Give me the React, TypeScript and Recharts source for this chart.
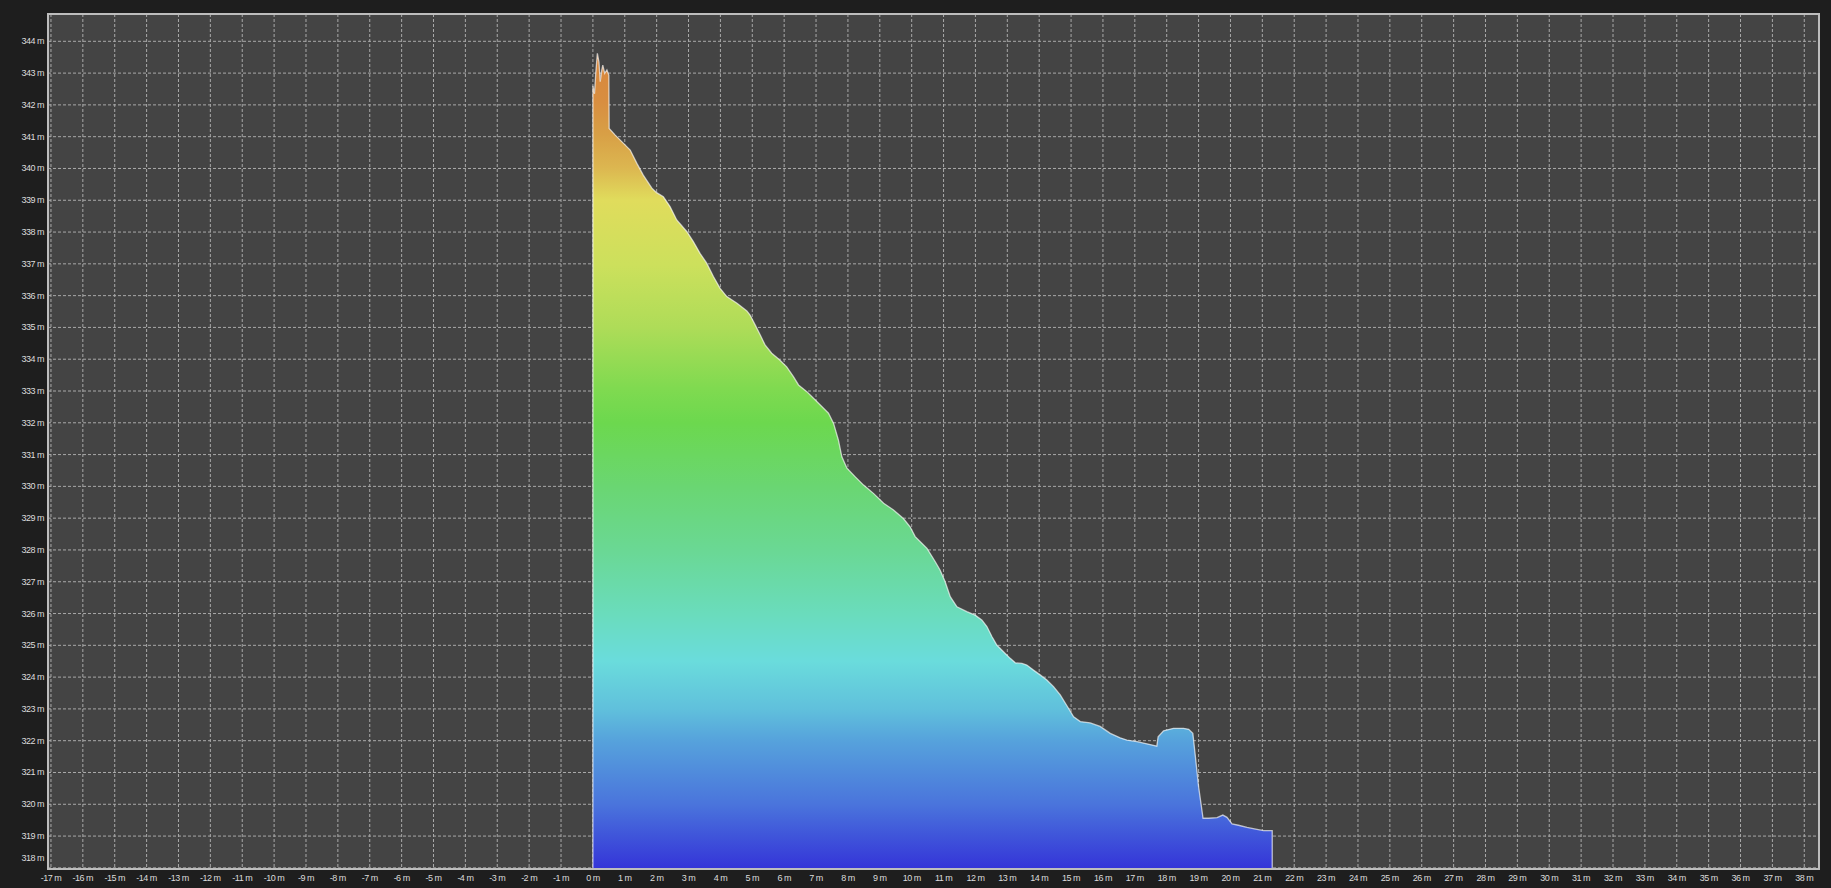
import React from 'react';
import { AreaChart, Area, XAxis, YAxis, CartesianGrid } from 'recharts';

// distance along profile (m)
const distances: number[] = [
  0, 0, 0.05, 0.09, 0.14, 0.19, 0.23, 0.28, 0.31, 0.37, 0.44, 0.5, 0.51, 0.7, 0.96, 1.17, 1.38, 1.58, 1.85, 2.0,
  2.21, 2.42, 2.63, 2.95, 3.15, 3.36, 3.57, 3.78, 3.99, 4.2, 4.52, 4.83, 4.93, 5.09, 5.25, 5.4, 5.61, 5.87, 6.08,
  6.29, 6.45, 6.71, 6.92, 7.18, 7.39, 7.55, 7.7, 7.81, 7.97, 8.23, 8.49, 8.8, 9.12, 9.43, 9.74, 9.95, 10.11, 10.27,
  10.48, 10.74, 10.89, 11.05, 11.21, 11.42, 11.73, 11.99, 12.2, 12.36, 12.52, 12.67, 12.88, 13.09, 13.25, 13.46,
  13.61, 13.82, 14.03, 14.24, 14.45, 14.66, 14.87, 15.08, 15.29, 15.6, 15.91, 16.23, 16.54, 16.75, 17.07, 17.38,
  17.69, 17.73, 17.9, 18.21, 18.53, 18.69, 18.82, 18.9, 19.0, 19.06, 19.14, 19.32, 19.58, 19.76, 19.89, 20.05,
  20.25, 20.52, 20.83, 21.04, 21.31, 21.31,
];

// elevation (m)
const elevations: number[] = [
  317.964, 342.6, 342.35, 343.0, 343.62, 343.35, 342.73, 343.1, 343.25, 342.99, 343.1, 342.94, 341.26, 341.05,
  340.79, 340.58, 340.16, 339.79, 339.38, 339.24, 339.11, 338.8, 338.38, 338.01, 337.7, 337.33, 337.02, 336.6,
  336.23, 335.97, 335.76, 335.52, 335.39, 335.08, 334.76, 334.45, 334.19, 333.97, 333.76, 333.45, 333.19, 332.98,
  332.77, 332.51, 332.3, 331.98, 331.46, 330.93, 330.57, 330.3, 330.04, 329.78, 329.47, 329.26, 328.99, 328.73,
  328.42, 328.26, 328.05, 327.63, 327.37, 327.0, 326.53, 326.21, 326.06, 325.95, 325.8, 325.59, 325.27, 325.01,
  324.8, 324.59, 324.45, 324.43, 324.38, 324.22, 324.07, 323.91, 323.7, 323.44, 323.1, 322.75, 322.6, 322.56,
  322.45, 322.23, 322.09, 322.02, 321.97, 321.9, 321.83, 322.12, 322.31, 322.39, 322.39, 322.36, 322.23, 321.5,
  320.55, 320.13, 319.56, 319.56, 319.58, 319.66, 319.59, 319.38, 319.34, 319.27, 319.21, 319.17, 319.17, 317.964,
];

const xTicks: number[] = [];
for (let i = -17; i <= 38; i++) xTicks.push(i);
const yTicks: number[] = [];
for (let i = 318; i <= 344; i++) yTicks.push(i);

const X_DOMAIN: [number, number] = [-17.093, 38.462];
const Y_DOMAIN: [number, number] = [317.964, 344.859];

const data = distances.map((d, i) => ({ d, e: elevations[i] }));

const gradientStops: [number, string][] = [
  [0.0, '#d8863c'],
  [0.06, '#d88e40'],
  [0.1, '#d8a046'],
  [0.14, '#dcb650'],
  [0.18, '#e0dc5c'],
  [0.26, '#cce05c'],
  [0.336, '#aedc58'],
  [0.41, '#80da50'],
  [0.453, '#6cd84e'],
  [0.531, '#6ad672'],
  [0.609, '#6ad894'],
  [0.687, '#6adcbc'],
  [0.745, '#6adcdc'],
  [0.804, '#60c0dc'],
  [0.843, '#56a2dc'],
  [0.921, '#4a74dc'],
  [1.0, '#3434d8'],
];

const FONT = '"Liberation Sans", Arial, sans-serif';

const XTick = (props: any) => {
  const { x, y, payload } = props;
  return (
    <text
      x={x}
      y={y + 9}
      textAnchor="middle"
      dominantBaseline="central"
      fill="#dcdcdc"
      fontSize={9}
      fontFamily={FONT}
      style={{ letterSpacing: '-0.5px' }}
    >
      {`${payload.value} m`}
    </text>
  );
};

const YTick = (props: any) => {
  const { x, y, payload } = props;
  const shift = payload.value === 318 ? -10 : 0;
  return (
    <text
      x={x}
      y={y + shift}
      textAnchor="end"
      dominantBaseline="central"
      fill="#dcdcdc"
      fontSize={9}
      fontFamily={FONT}
      style={{ letterSpacing: '-0.5px' }}
    >
      {`${payload.value} m`}
    </text>
  );
};

export default function App() {
  return (
    <div
      style={{
        position: 'fixed',
        left: 0,
        top: 0,
        width: 1831,
        height: 888,
        background: '#1e1e1e',
        overflow: 'hidden',
      }}
    >
      <AreaChart
        width={1831}
        height={888}
        data={data}
        margin={{ top: 14, right: 12, bottom: 0, left: 0 }}
      >
        <defs>
          <linearGradient id="elevGrad" x1="0" y1="0" x2="0" y2="1">
            {gradientStops.map(([o, c]) => (
              <stop key={o} offset={o} stopColor={c} stopOpacity={1} />
            ))}
          </linearGradient>
        </defs>
        <CartesianGrid
          fill="#444444"
          stroke="#a9a9a9"
          strokeDasharray="3 2"
          strokeWidth={1}
        />
        <XAxis
          type="number"
          dataKey="d"
          domain={X_DOMAIN}
          ticks={xTicks}
          allowDataOverflow
          interval={0}
          height={19}
          tickSize={0}
          tickMargin={0}
          axisLine={false}
          tickLine={false}
          tick={<XTick />}
        />
        <YAxis
          type="number"
          dataKey="e"
          domain={Y_DOMAIN}
          ticks={yTicks}
          allowDataOverflow
          interval={0}
          width={48}
          tickSize={0}
          tickMargin={4}
          axisLine={false}
          tickLine={false}
          tick={<YTick />}
        />
        <Area
          type="linear"
          dataKey="e"
          baseValue={Y_DOMAIN[0]}
          fill="url(#elevGrad)"
          fillOpacity={1}
          stroke="rgba(255,255,255,0.65)"
          strokeWidth={1.3}
          isAnimationActive={false}
          dot={false}
          activeDot={false}
        />
      </AreaChart>
      <div
        style={{
          position: 'absolute',
          left: 47,
          top: 13,
          width: 1773,
          height: 857,
          boxSizing: 'border-box',
          border: '2px solid #bdbdbd',
          pointerEvents: 'none',
        }}
      />
    </div>
  );
}
